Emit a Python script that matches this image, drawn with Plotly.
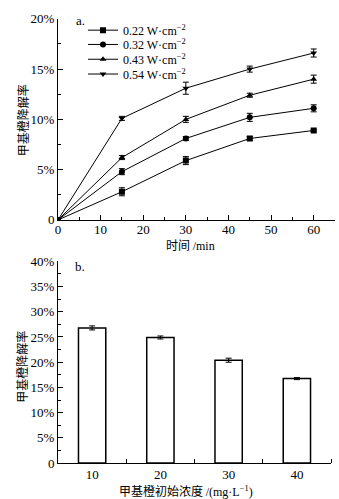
import plotly.graph_objects as go

# ---- data panel a ----
time_min = [0, 15, 30, 45, 60]
series_names = ["0.22 W·cm<sup>−2</sup>", "0.32 W·cm<sup>−2</sup>",
                "0.43 W·cm<sup>−2</sup>", "0.54 W·cm<sup>−2</sup>"]
rate_022 = [0, 2.8, 5.9, 8.1, 8.9]
rate_032 = [0, 4.8, 8.1, 10.2, 11.1]
rate_043 = [0, 6.2, 10.0, 12.4, 14.0]
rate_054 = [0, 10.1, 13.1, 15.0, 16.6]
err_022 = [0, 0.4, 0.4, 0.2, 0.1]
err_032 = [0, 0.3, 0.2, 0.4, 0.35]
err_043 = [0, 0.2, 0.3, 0.2, 0.4]
err_054 = [0, 0.2, 0.6, 0.3, 0.4]
markers = ["square", "circle", "triangle-up", "triangle-down"]

# ---- data panel b ----
conc = [10, 20, 30, 40]
rate_conc = [26.8, 24.9, 20.4, 16.75]
err_conc = [0.4, 0.3, 0.4, 0.2]

ya_vals = [0, 5, 10, 15, 20]
ya_text = ["0", "5%", "10%", "15%", "20%"]
yb_vals = [0, 5, 10, 15, 20, 25, 30, 35, 40]
yb_text = ["0", "5%", "10%", "15%", "20%", "25%", "30%", "35%", "40%"]

serif = "Liberation Serif"
cjk = "Noto Sans CJK SC"

W = 339
H = 499
H_EFF = 491
ml, mr = 58, 4
pw = W - ml - mr

def py(p):
    return 1 - p / H_EFF

fig = go.Figure()
all_rates = [rate_022, rate_032, rate_043, rate_054]
all_errs = [err_022, err_032, err_043, err_054]
legend_ids = ["legend", "legend2", "legend3", "legend4"]
legend_rows = [23.5, 38, 53, 68]
for name, r, e, m, lg in zip(series_names, all_rates, all_errs, markers, legend_ids):
    fig.add_trace(go.Scatter(
        x=time_min, y=r, name=name, mode="lines+markers",
        line=dict(color="black", width=1),
        marker=dict(symbol=m, color="black", size=6),
        error_y=dict(type="data", array=e, color="black", thickness=1, width=3),
        xaxis="x", yaxis="y", cliponaxis=True, legend=lg))

fig.add_trace(go.Bar(
    x=conc, y=rate_conc, width=4, showlegend=False,
    marker=dict(color="white", line=dict(color="black", width=1.5)),
    error_y=dict(type="data", array=err_conc, color="black", thickness=1, width=3),
    xaxis="x2", yaxis="y2"))

axis_common = dict(showline=True, linecolor="black", linewidth=1, showgrid=False,
                   zeroline=False, ticks="inside", ticklen=5, tickcolor="black",
                   tickfont=dict(family=serif, size=13, color="black"))

fig.update_layout(
    width=W, height=H, margin=dict(l=ml, r=mr, t=0, b=0),
    plot_bgcolor="white", paper_bgcolor="white",
    xaxis=dict(domain=[0, 1], range=[0, 65], tickvals=[0, 10, 20, 30, 40, 50, 60],
               minor=dict(ticks="inside", ticklen=3, dtick=5, tick0=5, tickcolor="black"),
               anchor="y", ticklabelstandoff=-3, **axis_common),
    yaxis=dict(domain=[py(216), py(12)], range=[0, 20], tickvals=ya_vals, ticktext=ya_text,
               minor=dict(ticks="inside", ticklen=3, dtick=2.5, tickcolor="black"),
               anchor="x", **axis_common),
    xaxis2=dict(domain=[0, 273 / pw], range=[5, 45], tickvals=conc, ticks="",
                minor=dict(ticks="inside", ticklen=4, tickvals=[15, 25, 35, 45], tickcolor="black"),
                anchor="y2", showline=True, linecolor="black", linewidth=1, showgrid=False,
                zeroline=False, ticklabelstandoff=-1,
                tickfont=dict(family=serif, size=13, color="black")),
    yaxis2=dict(domain=[py(462.7), py(258)], range=[0, 40], tickvals=yb_vals, ticktext=yb_text,
                minor=dict(ticks="inside", ticklen=3, dtick=2.5, tickcolor="black"),
                anchor="x2", **axis_common),
    showlegend=True,
)

for lg, row in zip(legend_ids, legend_rows):
    fig.update_layout({lg: dict(x=(83 - ml) / pw, y=py(row), xanchor="left", yanchor="middle",
                                font=dict(family=serif, size=12, color="black"),
                                bgcolor="rgba(0,0,0,0)", itemwidth=30)})

def ann(text, x, y, font, size, angle=0, xanchor="center"):
    fig.add_annotation(text=text, xref="paper", yref="paper",
                       x=(x - ml) / pw, y=py(y), showarrow=False, textangle=angle,
                       xanchor=xanchor, yanchor="middle",
                       font=dict(family=font, size=size, color="black"))

ann("a.", 74, 14, serif, 13, xanchor="left")
ann("b.", 73, 263, serif, 13, xanchor="left")
ann("时间 <span style='font-family:Liberation Serif'>/min</span>", 190, 241, cjk, 12)
ann("甲基橙降解率", 22, 115, cjk, 12, angle=-90)
ann("甲基橙降解率", 22, 365, cjk, 12, angle=-90)
ann("甲基橙初始浓度 <span style='font-family:Liberation Serif'>/(mg·L<sup>−1</sup>)</span>",
    186, 490.5, cjk, 12)

fig.write_html("out.html", config={"displayModeBar": False},
               post_script="document.body.style.margin='0';document.body.style.overflow='hidden';")
